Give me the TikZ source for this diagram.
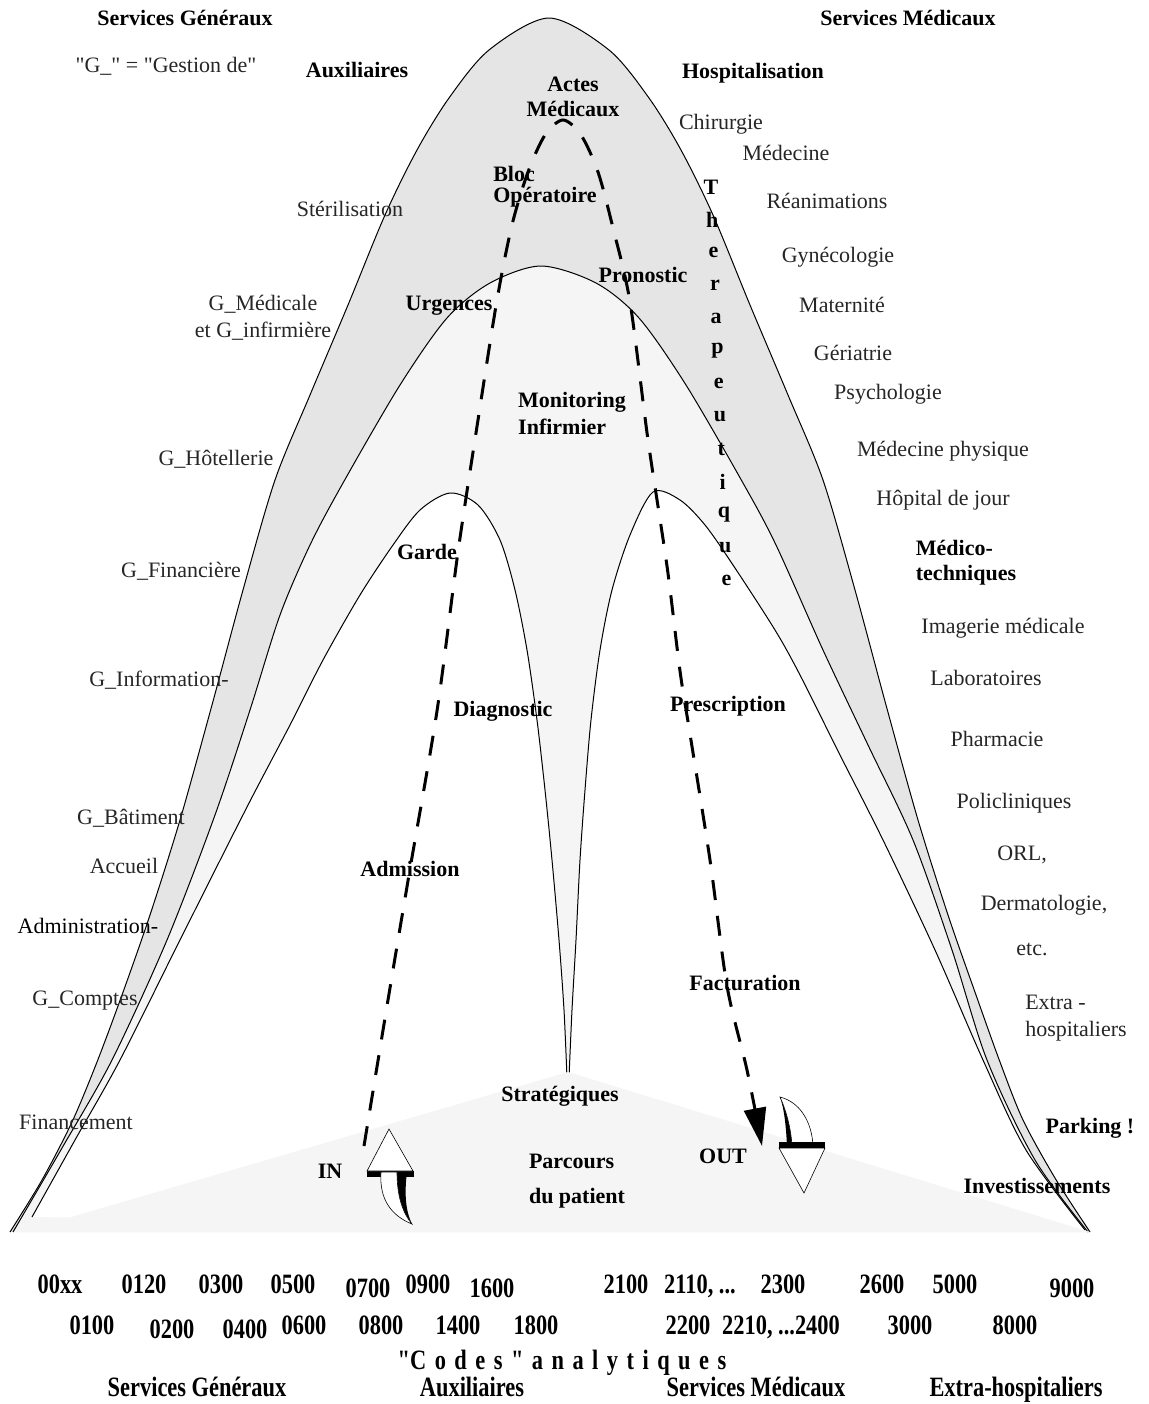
\documentclass[tikz,border=0pt]{standalone}
\usepackage{fontspec}
\setmainfont{Liberation Serif}
\usepackage{graphicx}
\usetikzlibrary{arrows.meta}

\definecolor{bandgray}{gray}{0.9}
\definecolor{lightgray}{gray}{0.96}
\newcommand{\cnd}[1]{\scalebox{0.8}[1]{#1}}
\newcommand{\dq}{\XeTeXglyph\XeTeXcharglyph34\relax}

\begin{document}
\begin{tikzpicture}[x=0.5pt, y=-0.5pt,
		lab/.style={font=\fontsize{11}{13.5}\selectfont, text=black!85},
		hd/.style={font=\fontsize{11}{12.5}\selectfont\bfseries},
		code/.style={font=\fontsize{14}{16}\selectfont\bfseries, anchor=base},
		arch/.style={line width=0.5pt},
		route/.style={line width=1.5pt, dash pattern=on 10pt off 8pt, -{Triangle[length=19pt,width=11pt]}}]
		\useasboundingbox (0,0) rectangle (1148,1404);
		% the three arches
		\draw[arch, fill=bandgray] plot[smooth] coordinates {(10,1232) (42,1180) (72,1122) (97,1062) (122,995) (150,915) (180,820) (212,705) (243,590) (275,480) (310,395) (348,305) (385,215) (417,150) (449,98) (489,50) (549,18) (609,50) (649,98) (681,150) (713,215) (750,305) (788,395) (823,480) (855,590) (886,705) (918,820) (948,915) (976,995) (1000,1062) (1023,1120) (1055,1178) (1090,1232)};
		\draw[arch, fill=lightgray] plot[smooth] coordinates {(13,1232) (62,1148) (112,1060) (167,940) (215,815) (250,710) (280,615) (310,545) (343,483) (400,385) (447,318) (490,283) (541,266) (596,283) (639,318) (686,385) (743,483) (776,545) (823,650) (868,745) (913,840) (952,950) (987,1060) (1035,1160) (1088,1232)};
		\draw[arch, fill=white] plot[smooth] coordinates {(32,1217) (75,1140) (120,1060) (180,940) (247,807) (290,725) (323,660) (360,595) (393,545) (420,510) (450,493) (478,505) (500,540) (515,590) (527,650) (537,720) (545,790) (552,860) (559,940) (564,1010) (567,1078)}
			-- plot[smooth] coordinates {(569,1078) (572,1010) (576,940) (580,860) (585,790) (591,720) (600,650) (612,590) (630,535) (653,492) (680,500) (705,525) (733,565) (775,630) (800,675) (840,755) (883,840) (935,950) (983,1060) (1026,1150) (1085,1230)};
		\fill[lightgray] (568,1072) -- (1090,1232) -- (20,1232) -- cycle;
		% patient route
		\draw[route] plot[smooth] coordinates {(364,1146) (388,1000) (410,869) (437,711) (458,552) (478,420) (497,300) (512,225) (528,172) (545,135) (563,120) (581,135) (598,172) (613,228) (630,302) (648,440) (667,566) (680,671) (690,734) (710,860) (727,986) (747,1070) (762,1146)};
		% IN arrow
		\fill (367,1171) rectangle (414,1177);
		\fill (397,1172) -- (407,1172) .. controls (404,1195) and (406,1212) .. (412,1224) .. controls (402,1212) and (397,1195) .. (397,1172);
		\draw[fill=white, line width=0.3pt] (381,1172) .. controls (379,1200) and (392,1216) .. (412,1224) .. controls (402,1212) and (397,1195) .. (397,1172) -- cycle;
		\draw[fill=white, line width=0.3pt] (367,1171) -- (389,1129) -- (413,1171) -- cycle;
		% OUT arrow
		\fill (780,1097) .. controls (786,1110) and (791,1128) .. (792,1146) -- (787,1146) .. controls (786,1125) and (784,1108) .. (780,1097);
		\draw[fill=white, line width=0.3pt] (780,1097) .. controls (800,1102) and (812,1122) .. (813,1146) -- (792,1146) .. controls (791,1128) and (786,1110) .. (780,1097) -- cycle;
		\fill (779,1142) rectangle (825,1148);
		\draw[fill=white, line width=0.3pt] (779,1148) -- (825,1148) -- (804,1193) -- cycle;
		% labels
		\node[hd] (tsg) at (185,18) {Services Généraux};
		\node[hd] (tsm) at (908,18) {Services Médicaux};
		\node[lab] (gdef) at (166,66) {\dq G\_\dq{} = \dq Gestion de\dq};
		\node[hd] (aux) at (357,70) {Auxiliaires};
		\node[hd, align=center] (actes) at (573,97) {Actes\\Médicaux};
		\node[hd] (hosp) at (753,73) {Hospitalisation};
		\node[lab] (chir) at (721,124) {Chirurgie};
		\node[lab] (medc) at (786,153) {Médecine};
		\node[hd, align=left, font=\fontsize{11}{10.5}\selectfont\bfseries] (bloc) at (545,187) {Bloc\\Opératoire};
		\node[lab] (steril) at (350,209) {Stérilisation};
		\foreach \c [count=\i] in {T,h,e,r,a,p,e,u,t,i,q,u,e}
			\node[hd] (th\i) at ({711+1.3*(\i-1)},{187+32.8*(\i-1)}) {\c};
		\node[lab] (rea) at (827,201) {Réanimations};
		\node[lab] (gyn) at (838,257) {Gynécologie};
		\node[hd] (prono) at (643,275) {Pronostic};
		\node[lab] (mater) at (842,305) {Maternité};
		\node[lab, align=center] (gmed) at (263,318) {G\_Médicale\\et G\_infirmière};
		\node[hd] (urg) at (449,306) {Urgences};
		\node[lab] (geri) at (853,353) {Gériatrie};
		\node[lab] (psy) at (888,394) {Psychologie};
		\node[hd, align=left, font=\fontsize{11}{13.5}\selectfont\bfseries] (monit) at (572,413) {Monitoring\\Infirmier};
		\node[lab] (medphy) at (943,451) {Médecine physique};
		\node[lab] (ghot) at (216,459) {G\_Hôtellerie};
		\node[lab] (hdj) at (943,500) {Hôpital de jour};
		\node[hd] (garde) at (427,552) {Garde};
		\node[hd, align=left] (medtech) at (966,563) {Médico-\\techniques};
		\node[lab] (gfin) at (181,571) {G\_Financière};
		\node[lab] (imag) at (1003,628) {Imagerie médicale};
		\node[lab] (ginf) at (159,680) {G\_Information-};
		\node[lab] (labo) at (986,678) {Laboratoires};
		\node[hd] (diag) at (503,711) {Diagnostic};
		\node[hd] (presc) at (728,706) {Prescription};
		\node[lab] (pharm) at (997,739) {Pharmacie};
		\node[lab] (policl) at (1014,803) {Policliniques};
		\node[lab] (gbat) at (131,818) {G\_Bâtiment};
		\node[lab] (orl) at (1022,855) {ORL,};
		\node[lab] (accueil) at (124,866) {Accueil};
		\node[hd] (admis) at (410,869) {Admission};
		\node[lab] (derma) at (1044,905) {Dermatologie,};
		\node[lab, text=black] (admin) at (88,926) {Administration-};
		\node[lab] (etc) at (1032,949) {etc.};
		\node[lab] (gcpt) at (85,1001) {G\_Comptes};
		\node[hd] (factu) at (745,983) {Facturation};
		\node[lab, align=left] (extra) at (1076,1018) {Extra -\\hospitaliers};
		\node[lab] (financ) at (76,1122) {Financement};
		\node[hd] (strat) at (560,1096) {Stratégiques};
		\node[hd] (parking) at (1090,1128) {Parking !};
		\node[hd, align=left, font=\fontsize{11}{17.5}\selectfont\bfseries] (parcours) at (577,1181) {Parcours\\du patient};
		\node[hd] (in) at (330,1171) {IN};
		\node[hd] (out) at (723,1156) {OUT};
		\node[hd] (invest) at (1037,1186) {Investissements};
		% analytic codes
		\node[code] (k00xx) at (60,1293) {\cnd{00xx}};
		\node[code] (k0120) at (144,1293) {\cnd{0120}};
		\node[code] (k0300) at (221,1293) {\cnd{0300}};
		\node[code] (k0500) at (293,1293) {\cnd{0500}};
		\node[code] (k0700) at (368,1297) {\cnd{0700}};
		\node[code] (k0900) at (428,1293) {\cnd{0900}};
		\node[code] (k1600) at (492,1297) {\cnd{1600}};
		\node[code] (k2100) at (626,1293) {\cnd{2100}};
		\node[code] (k2110) at (700,1293) {\cnd{2110, ...}};
		\node[code] (k2300) at (783,1293) {\cnd{2300}};
		\node[code] (k2600) at (882,1293) {\cnd{2600}};
		\node[code] (k5000) at (955,1293) {\cnd{5000}};
		\node[code] (k9000) at (1072,1297) {\cnd{9000}};
		\node[code] (k0100) at (92,1334) {\cnd{0100}};
		\node[code] (k0200) at (172,1338) {\cnd{0200}};
		\node[code] (k0400) at (245,1338) {\cnd{0400}};
		\node[code] (k0600) at (304,1334) {\cnd{0600}};
		\node[code] (k0800) at (381,1334) {\cnd{0800}};
		\node[code] (k1400) at (458,1334) {\cnd{1400}};
		\node[code] (k1800) at (536,1334) {\cnd{1800}};
		\node[code] (k2200) at (688,1334) {\cnd{2200}};
		\node[code] (k2210) at (781,1334) {\cnd{2210, ...2400}};
		\node[code] (k3000) at (910,1334) {\cnd{3000}};
		\node[code] (k8000) at (1015,1334) {\cnd{8000}};
		\node[code] (codes) at (562,1369) {\cnd{\spaceskip=5.3pt \dq C o d e s \dq{} a n a l y t i q u e s}};
		\node[code] (bsg) at (197,1396) {\cnd{Services Généraux}};
		\node[code] (baux) at (472,1396) {\cnd{Auxiliaires}};
		\node[code] (bsm) at (756,1396) {\cnd{Services Médicaux}};
		\node[code] (bext) at (1016,1396) {\cnd{Extra-hospitaliers}};
	\end{tikzpicture}
\end{document}
